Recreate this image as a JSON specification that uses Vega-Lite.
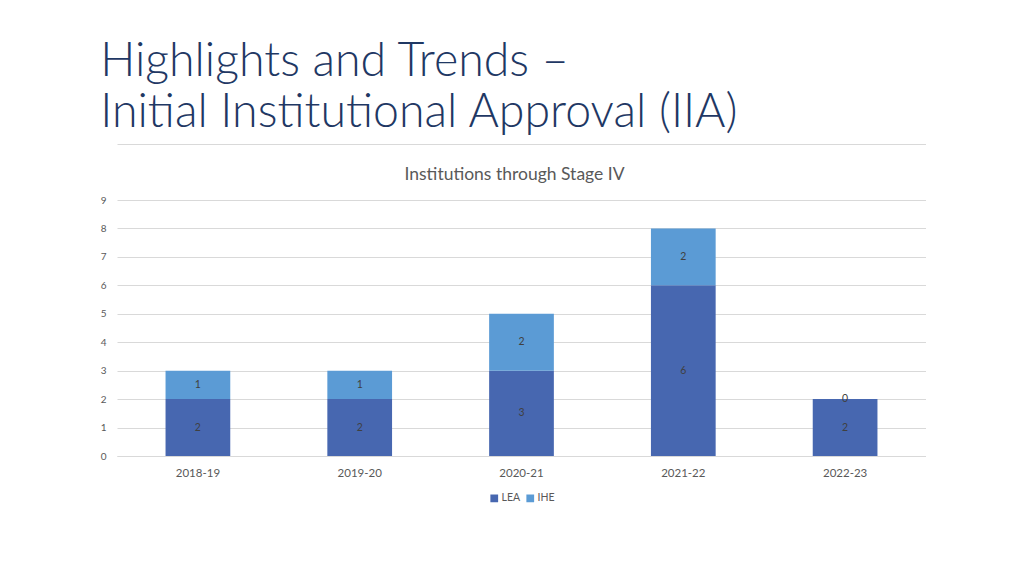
{
  "$schema": "https://vega.github.io/schema/vega-lite/v6.json",
  "width": 809,
  "height": 256,
  "autosize": {"type": "pad"},
  "padding": {"left": 100, "top": 38, "right": 0, "bottom": 0},
  "background": "white",
  "title": {
    "text": ["Highlights and Trends –", "Initial Institutional Approval (IIA)"],
    "anchor": "start",
    "frame": "bounds",
    "font": "Lato",
    "fontWeight": 300,
    "fontSize": 46.5,
    "color": "#1f3864",
    "lineHeight": 51,
    "offset": 8
  },
  "config": {
    "view": {"stroke": null},
    "font": "Lato",
    "legend": {"layout": {"bottom": {"anchor": "middle"}}},
    "axisY": {
      "title": null,
      "values": [0, 1, 2, 3, 4, 5, 6, 7, 8, 9],
      "labelOverlap": false,
      "labelFontSize": 10,
      "labelColor": "#595959",
      "labelPadding": 11,
      "ticks": false,
      "domain": false,
      "grid": true,
      "gridColor": "#d9d9d9"
    }
  },
  "data": {
    "values": [
      {"year": "2018-19", "type": "LEA", "count": 2},
      {"year": "2018-19", "type": "IHE", "count": 1},
      {"year": "2019-20", "type": "LEA", "count": 2},
      {"year": "2019-20", "type": "IHE", "count": 1},
      {"year": "2020-21", "type": "LEA", "count": 3},
      {"year": "2020-21", "type": "IHE", "count": 2},
      {"year": "2021-22", "type": "LEA", "count": 6},
      {"year": "2021-22", "type": "IHE", "count": 2},
      {"year": "2022-23", "type": "LEA", "count": 2},
      {"year": "2022-23", "type": "IHE", "count": 0}
    ]
  },
  "layer": [
    {
      "mark": {"type": "bar", "width": {"band": 0.4}},
      "encoding": {
        "x": {
          "field": "year",
          "type": "nominal",
          "scale": {"paddingInner": 0, "paddingOuter": 0},
          "axis": {
            "orient": "bottom",
            "title": null,
            "labelAngle": 0,
            "labelFontSize": 11.5,
            "labelColor": "#595959",
            "labelPadding": 11,
            "ticks": false,
            "domain": true,
            "domainColor": "#d9d9d9",
            "grid": false
          }
        },
        "y": {
          "field": "count",
          "type": "quantitative",
          "stack": "zero",
          "title": null,
          "scale": {"domain": [0, 9], "nice": false}
        },
        "color": {
          "field": "type",
          "type": "nominal",
          "scale": {"domain": ["LEA", "IHE"], "range": ["#4767b0", "#5b9bd5"]},
          "legend": {
            "orient": "bottom",
            "title": null,
            "symbolType": "square",
            "symbolSize": 60,
            "labelFontSize": 10.5,
            "labelColor": "#595959",
            "columnPadding": 4,
            "labelOffset": 2,
            "offset": 14
          }
        },
        "order": {"field": "type", "sort": "descending"}
      }
    },
    {
      "mark": {"type": "text", "fontSize": 10.5, "color": "#404040", "baseline": "middle"},
      "encoding": {
        "x": {
          "field": "year",
          "type": "nominal",
          "axis": {
            "orient": "top",
            "offset": 56,
            "labels": false,
            "ticks": false,
            "domain": true,
            "domainColor": "#d9d9d9",
            "grid": false,
            "title": "Institutions through Stage IV",
            "titleFont": "Lato",
            "titleFontWeight": "normal",
            "titleFontSize": 17.5,
            "titleColor": "#595959",
            "titleBaseline": "middle",
            "titleX": 397,
            "titleY": 30
          }
        },
        "y": {"field": "count", "type": "quantitative", "stack": "zero", "bandPosition": 0.5, "title": null},
        "detail": {"field": "type"},
        "order": {"field": "type", "sort": "descending"},
        "text": {"field": "count", "type": "quantitative"}
      }
    }
  ]
}
